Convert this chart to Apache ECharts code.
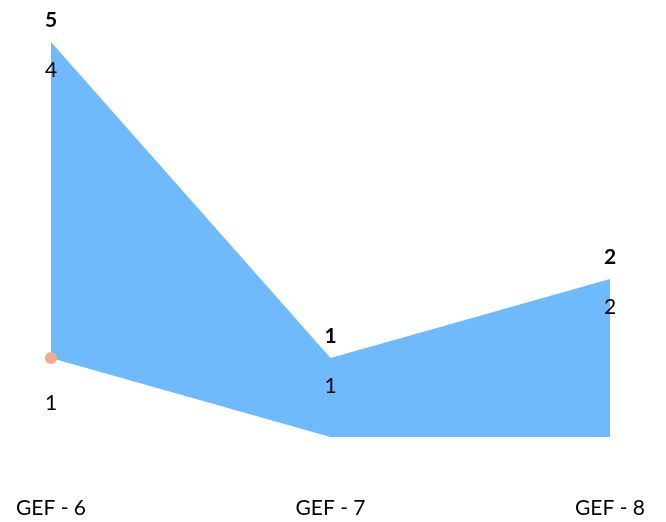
<!DOCTYPE html>
<html>
<head>
<meta charset="utf-8">
<script src="https://cdn.jsdelivr.net/npm/echarts@6/dist/echarts.min.js"></script>
<style>html,body{margin:0;padding:0;background:#fff}#c{width:666px;height:522px}</style>
</head>
<body>
<div id="c"></div>
<script>
const categories = ['GEF - 6', 'GEF - 7', 'GEF - 8'];
const baseValues = [1, 0, 0];
const rangeValues = [4, 1, 2];
const totalValues = [5, 1, 2];

const FONT = 'Lato';
const chart = echarts.init(document.getElementById('c'));
chart.setOption({
  animation: false,
  grid: { left: 51, right: 56, top: 42, bottom: 85 },
  xAxis: {
    type: 'category', data: categories, boundaryGap: false,
    axisLine: { show: false }, axisTick: { show: false },
    axisLabel: { color: '#000', fontFamily: FONT, fontSize: 21, margin: 61 }
  },
  yAxis: { type: 'value', min: 0, max: 5, show: false, splitLine: { show: false } },
  series: [
    {
      type: 'line', stack: 'g', data: baseValues,
      lineStyle: { width: 0 },
      symbol: 'circle',
      symbolSize: function (v) { return v ? 12 : 0.01; },
      itemStyle: { color: '#f0a98a' },
      label: {
        show: true, position: 'bottom', distance: 29, color: '#000',
        fontFamily: FONT, fontSize: 21,
        formatter: function (p) { return p.value ? String(p.value) : ''; }
      },
      z: 3
    },
    {
      type: 'line', stack: 'g', data: rangeValues,
      lineStyle: { width: 0 }, symbol: 'circle', symbolSize: 0.01, showSymbol: true,
      itemStyle: { color: '#6fb9fd', opacity: 0 },
      areaStyle: { color: '#6fb9fd', opacity: 1 },
      label: {
        show: true, position: 'bottom', distance: 18, color: '#000',
        fontFamily: FONT, fontSize: 21, opacity: 1
      },
      z: 2
    },
    {
      type: 'line', data: totalValues,
      lineStyle: { width: 0, opacity: 0 }, symbol: 'circle', symbolSize: 0.01,
      itemStyle: { opacity: 0 },
      label: {
        show: true, position: 'top', distance: 11, color: '#000',
        fontFamily: FONT, fontSize: 21, fontWeight: 'bold', opacity: 1
      },
      z: 4
    }
  ]
});
</script>
</body>
</html>
